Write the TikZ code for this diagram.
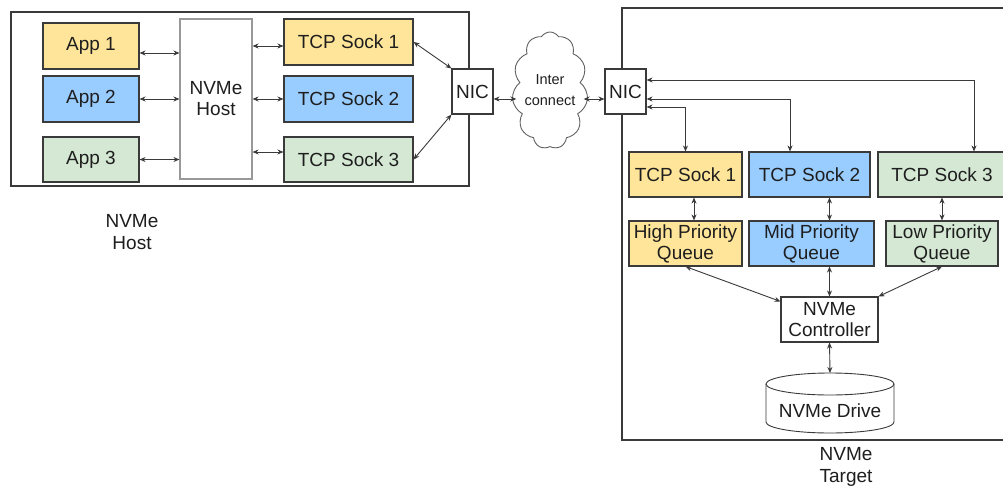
\documentclass[tikz,border=0pt]{standalone}
\usepackage{fontspec}
\setmainfont{Liberation Sans}
\usetikzlibrary{shapes.symbols,arrows.meta,calc}
\definecolor{bxYellow}{HTML}{FFE599}
\definecolor{bxBlue}{HTML}{99CCFF}
\definecolor{bxGreen}{HTML}{D5E8D4}
\definecolor{edge}{HTML}{3A3A3A}
\definecolor{txt}{HTML}{1E1E1E}
\tikzset{
  blk/.style={draw=edge, line width=1.1pt, inner sep=0pt, align=center,
    text=txt, font=\fontsize{19}{21}\selectfont},
  frame/.style={draw=edge, line width=1.1pt},
  lbl/.style={align=center, text=txt, font=\fontsize{19}{21.5}\selectfont},
  arr/.style={draw=edge, line width=0.9pt,
    {Stealth[length=6pt,width=5pt]}-{Stealth[length=6pt,width=5pt]}},
}
\begin{document}
\begin{tikzpicture}[x=1pt,y=-1pt]
\clip (0,0) rectangle (1003,487);
\fill[white] (0,0) rectangle (1003,487);

% outer frames
\draw[frame] (11,12) rectangle (469,186);
\draw[frame] (622,8) rectangle (1012,440);

% host side
\node[blk, fill=bxYellow, minimum width=96pt, minimum height=46pt] (app1) at (91,46) {App 1};
\node[blk, fill=bxBlue, minimum width=96pt, minimum height=46pt] (app2) at (91,99) {App 2};
\node[blk, fill=bxGreen, minimum width=96pt, minimum height=45pt] (app3) at (91,159.5) {App 3};
\node[blk, draw=gray!80, fill=white, minimum width=72pt, minimum height=160pt] (nvhost) at (216,99) {NVMe\\Host};
\node[blk, fill=bxYellow, minimum width=129pt, minimum height=46pt] (tcp1) at (348.5,42) {TCP Sock 1};
\node[blk, fill=bxBlue, minimum width=129pt, minimum height=46pt] (tcp2) at (348.5,99) {TCP Sock 2};
\node[blk, fill=bxGreen, minimum width=129pt, minimum height=45pt] (tcp3) at (348.5,159.5) {TCP Sock 3};
\node[blk, fill=white, minimum width=41pt, minimum height=45pt] (nicL) at (472.5,91.5) {NIC};

% network cloud
\node[cloud, draw=edge!80, line width=0.9pt, cloud puffs=11, cloud puff arc=115,
  cloud ignores aspect, minimum width=74pt, minimum height=117pt, inner sep=0pt,
  align=center, text=txt, font=\fontsize{14.5}{21}\selectfont] (net) at (550,90.5) {Inter\\connect};

% target side
\node[blk, fill=white, minimum width=41pt, minimum height=45pt] (nicR) at (625.5,91.5) {NIC};
\node[blk, fill=bxYellow, minimum width=113pt, minimum height=45pt] (ttcp1) at (685.5,174.5) {TCP Sock 1};
\node[blk, fill=bxBlue, minimum width=121pt, minimum height=45pt] (ttcp2) at (809.5,174.5) {TCP Sock 2};
\node[blk, fill=bxGreen, minimum width=128pt, minimum height=45pt] (ttcp3) at (942,174.5) {TCP Sock 3};
\node[blk, fill=bxYellow, minimum width=113pt, minimum height=45pt] (hq) at (685.5,243.5) {High Priority\\Queue};
\node[blk, fill=bxBlue, minimum width=125pt, minimum height=45pt] (mq) at (811.5,243.5) {Mid Priority\\Queue};
\node[blk, fill=bxGreen, minimum width=112pt, minimum height=45pt] (lq) at (942,243.5) {Low Priority\\Queue};
\node[blk, fill=white, minimum width=97pt, minimum height=45pt] (ctrl) at (829.5,319.5) {NVMe\\Controller};

% drive cylinder: body first, then the top ellipse
\draw[frame, line width=0.9pt, fill=white] (766,384) -- (766,422)
  arc[start angle=180, end angle=0, x radius=64, y radius=11] -- (894,384);
\draw[frame, line width=0.9pt, fill=white] (830,384) ellipse[x radius=64, y radius=11];
\node[lbl, font=\fontsize{19}{21}\selectfont] (drive) at (830,411) {NVMe Drive};
\coordinate (drivetop) at (830,373);

% captions
\node[lbl] (hostcap) at (132,232) {NVMe\\Host};
\node[lbl] (tgtcap) at (846,467) {NVMe\\Target};

% host connectors
\draw[arr] (app1.east |- 0,53) -- (nvhost.west |- 0,53);
\draw[arr] (app2.east) -- (nvhost.west |- app2.east);
\draw[arr] (app3.east) -- (nvhost.west |- app3.east);
\draw[arr] (nvhost.east |- 0,46) -- (tcp1.west |- 0,46);
\draw[arr] (nvhost.east |- 0,99) -- (tcp2.west |- 0,99);
\draw[arr] (nvhost.east |- 0,152) -- (tcp3.west |- 0,152);
\draw[arr] (tcp1.east) -- (nicL.north west);
\draw[arr] (tcp3.east) -- (nicL.south west);

% network connectors
\draw[arr] (nicL.east |- 0,99) -- ($(net.west |- 0,99)+(3,0)$);
\draw[arr] ($(net.east |- 0,99)+(-3,0)$) -- (nicR.west |- 0,99);

% target connectors
\draw[arr] (nicR.east |- 0,80) -| ($(ttcp3.north)+(32,0)$);
\draw[arr] (nicR.east |- 0,99) -| ($(ttcp2.north)+(-19.5,0)$);
\draw[arr] (nicR.east |- 0,107) -| (ttcp1.north);
\draw[arr] ($(ttcp1.south)+(8.5,0)$) -- ($(hq.north)+(8.5,0)$);
\draw[arr] (ttcp2.south -| ctrl.north) -- (mq.north -| ctrl.north);
\draw[arr] (ttcp3.south) -- (lq.north);
\draw[arr] (hq.south) -- ($(ctrl.north west)+(0,5)$);
\draw[arr] (mq.south -| ctrl.north) -- (ctrl.north);
\draw[arr] (lq.south) -- (ctrl.north east);
\draw[arr] (ctrl.south) -- (drivetop);
\end{tikzpicture}
\end{document}
